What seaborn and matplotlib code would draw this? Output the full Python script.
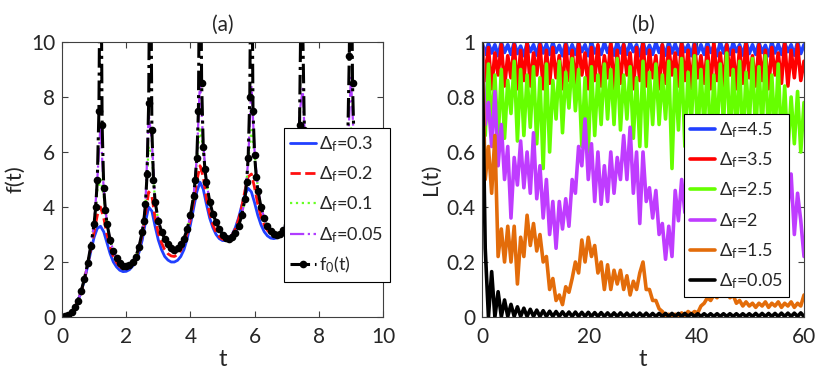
import numpy as np
import pandas as pd
import seaborn as sns
import matplotlib.pyplot as plt

# ---- panel (a): f(t) ----
t_a = np.linspace(0, 10, 101)

f_03 = [0, 0.02, 0.08, 0.18, 0.35, 0.6, 0.93, 1.35, 1.85, 2.4,
        2.9, 3.22, 3.3, 3.1, 2.7, 2.3, 2.0, 1.82, 1.7, 1.65,
        1.66, 1.72, 1.85, 2.05, 2.35, 2.8, 3.45, 4.0, 3.85, 3.3,
        2.8, 2.45, 2.2, 2.07, 2.0, 2.0, 2.06, 2.2, 2.45, 2.85,
        3.35, 3.95, 4.55, 4.9, 4.65, 4.1, 3.6, 3.25, 3.0, 2.85,
        2.78, 2.78, 2.85, 3.0, 3.25, 3.6, 4.05, 4.45, 4.68, 4.55,
        4.15, 3.7, 3.35, 3.1, 2.95, 2.87, 2.85, 2.88, 2.98, 3.15,
        3.4, 3.75, 4.15, 4.5, 4.6, 4.35, 3.9, 3.5, 3.2, 3.0,
        2.9, 2.87, 2.9, 3.0, 3.2, 3.45, 3.8, 4.2, 4.55, 4.7,
        4.55, 4.15, 3.75, 3.45, 3.25, 3.15, 3.15, 3.25, 3.5, 3.85,
        4.3]
f_02 = [0, 0.02, 0.08, 0.18, 0.35, 0.6, 0.94, 1.38, 1.9, 2.5,
        3.1, 3.7, 4.0, 3.6, 3.0, 2.55, 2.2, 1.98, 1.83, 1.76,
        1.75, 1.8, 1.93, 2.15, 2.5, 3.0, 3.75, 4.55, 4.4, 3.6,
        3.05, 2.7, 2.45, 2.3, 2.22, 2.2, 2.27, 2.42, 2.68, 3.05,
        3.55, 4.2, 4.95, 5.5, 5.1, 4.3, 3.75, 3.35, 3.08, 2.92,
        2.83, 2.8, 2.85, 2.98, 3.2, 3.55, 4.0, 4.6, 5.1, 5.2,
        4.7, 4.1, 3.65, 3.35, 3.15, 3.02, 2.96, 2.95, 3.0, 3.12,
        3.35, 3.65, 4.1, 4.7, 5.3, 5.4, 4.8, 4.15, 3.7, 3.4,
        3.22, 3.12, 3.08, 3.1, 3.2, 3.38, 3.65, 4.05, 4.6, 5.3,
        5.6, 5.1, 4.4, 3.95, 3.7, 3.55, 3.5, 3.52, 3.6, 3.75,
        3.96]
f_01 = [0, 0.02, 0.08, 0.18, 0.35, 0.6, 0.95, 1.4, 1.95, 2.6,
        3.4, 4.6, 5.0, 4.4, 3.4, 2.8, 2.4, 2.15, 1.96, 1.86,
        1.83, 1.87, 1.99, 2.19, 2.54, 3.1, 4.1, 6.2, 5.9, 4.2,
        3.5, 3.1, 2.85, 2.65, 2.5, 2.44, 2.49, 2.64, 2.84, 3.2,
        3.7, 4.4, 5.7, 6.9, 6.1, 4.9, 4.2, 3.75, 3.45, 3.2,
        3.0, 2.88, 2.85, 2.9, 3.05, 3.3, 3.7, 4.3, 5.6, 6.8,
        5.9, 4.7, 4.0, 3.6, 3.3, 3.12, 3.02, 2.98, 3.02, 3.15,
        3.35, 3.65, 4.1, 4.9, 6.5, 6.6, 5.4, 4.4, 3.85, 3.55,
        3.35, 3.22, 3.16, 3.17, 3.25, 3.4, 3.65, 4.0, 4.6, 5.9,
        6.9, 6.0, 4.9, 4.25, 3.9, 3.65, 3.5, 3.42, 3.4, 3.45,
        3.55]
f_005 = [0, 0.02, 0.08, 0.18, 0.35, 0.6, 0.95, 1.4, 1.95, 2.6,
         3.4, 5.0, 7.0, 4.6, 3.4, 2.8, 2.4, 2.15, 1.97, 1.87,
         1.84, 1.88, 2.0, 2.2, 2.55, 3.1, 4.1, 7.4, 6.4, 4.2,
         3.5, 3.1, 2.85, 2.65, 2.5, 2.45, 2.5, 2.65, 2.85, 3.2,
         3.7, 4.4, 5.8, 8.6, 6.3, 4.9, 4.2, 3.75, 3.45, 3.2,
         3.0, 2.88, 2.85, 2.9, 3.05, 3.3, 3.7, 4.3, 5.7, 8.4,
         6.0, 4.7, 4.0, 3.6, 3.3, 3.12, 3.02, 2.98, 3.02, 3.15,
         3.35, 3.65, 4.1, 4.9, 7.4, 8.3, 5.5, 4.4, 3.85, 3.55,
         3.35, 3.22, 3.16, 3.17, 3.25, 3.4, 3.65, 4.0, 4.6, 6.0,
         8.7, 6.2, 4.9, 4.25, 3.9, 3.65, 3.5, 3.42, 3.4, 3.45,
         3.55]

t_f0 = [0, 0.1, 0.2, 0.3, 0.4, 0.5, 0.6, 0.7, 0.8, 0.9,
        1.0, 1.05, 1.1, 1.15, 1.2, 1.25, 1.3, 1.35, 1.4, 1.5,
        1.6, 1.7, 1.8, 1.9, 2.0, 2.1, 2.2, 2.3, 2.4, 2.5,
        2.55, 2.6, 2.65, 2.7, 2.75, 2.8, 2.85, 2.9, 3.0, 3.1,
        3.2, 3.3, 3.4, 3.5, 3.6, 3.7, 3.8, 3.9, 4.0, 4.1,
        4.15, 4.2, 4.25, 4.3, 4.35, 4.4, 4.45, 4.5, 4.6, 4.7,
        4.8, 4.9, 5.0, 5.1, 5.2, 5.3, 5.4, 5.5, 5.6, 5.7,
        5.75, 5.8, 5.85, 5.9, 5.95, 6.0, 6.05, 6.1, 6.2, 6.3,
        6.4, 6.5, 6.6, 6.7, 6.8, 6.9, 7.0, 7.1, 7.2, 7.3,
        7.35, 7.4, 7.45, 7.5, 7.55, 7.6, 7.7, 7.8, 7.9, 8.0,
        8.1, 8.2, 8.3, 8.4, 8.5, 8.6, 8.7, 8.8, 8.85, 8.9,
        8.95, 9.0, 9.05, 9.1, 9.15, 9.2, 9.3, 9.4, 9.5, 9.6,
        9.7, 9.8, 9.9, 10.0]
f0 = [0, 0.02, 0.08, 0.18, 0.35, 0.6, 0.95, 1.4, 1.95, 2.6,
      3.4, 4.0, 5.0, 7.5, 16, 7.0, 4.7, 3.9, 3.4, 2.8,
      2.4, 2.15, 1.97, 1.87, 1.84, 1.88, 2.0, 2.2, 2.55, 3.1,
      3.5, 4.1, 5.2, 7.8, 16, 6.8, 5.0, 4.2, 3.5, 3.1,
      2.85, 2.65, 2.5, 2.45, 2.5, 2.65, 2.85, 3.2, 3.7, 4.4,
      5.0, 5.8, 7.5, 16, 8.5, 6.2, 5.4, 4.9, 4.2, 3.75,
      3.45, 3.2, 3.0, 2.88, 2.85, 2.9, 3.05, 3.3, 3.7, 4.3,
      4.9, 5.8, 8.0, 16, 7.5, 5.9, 5.1, 4.6, 4.0, 3.6,
      3.3, 3.12, 3.02, 2.98, 3.02, 3.15, 3.35, 3.65, 4.1, 4.9,
      5.6, 7.0, 12, 10.5, 6.8, 5.6, 4.4, 3.85, 3.55, 3.35,
      3.22, 3.16, 3.17, 3.25, 3.4, 3.65, 4.0, 4.6, 5.3, 6.3,
      9.5, 16, 8.5, 6.2, 5.3, 4.8, 4.25, 3.9, 3.65, 3.5,
      3.42, 3.4, 3.45, 3.55]

# ---- panel (b): L(t) ----
t_b = np.linspace(0, 60, 101)

L_45 = [1.0, 0.955, 0.995, 0.96, 0.99, 0.95, 1.0, 0.962, 0.99, 0.955,
        0.998, 0.958, 0.985, 0.95, 0.995, 0.965, 0.99, 0.952, 1.0, 0.96,
        0.992, 0.955, 0.998, 0.962, 0.988, 0.95, 1.0, 0.958, 0.99, 0.955,
        0.996, 0.965, 0.99, 0.95, 1.0, 0.96, 0.985, 0.955, 0.998, 0.962,
        0.99, 0.952, 1.0, 0.96, 0.992, 0.955, 0.997, 0.965, 0.99, 0.95,
        1.0, 0.958, 0.988, 0.955, 0.998, 0.962, 0.99, 0.952, 1.0, 0.96,
        0.993, 0.955, 0.996, 0.965, 0.99, 0.95, 1.0, 0.958, 0.99, 0.955,
        0.998, 0.962, 0.986, 0.95, 1.0, 0.96, 0.992, 0.955, 0.997, 0.965,
        0.99, 0.952, 1.0, 0.958, 0.99, 0.955, 0.998, 0.962, 0.988, 0.95,
        1.0, 0.96, 0.992, 0.955, 0.996, 0.965, 0.99, 0.952, 1.0, 0.958,
        0.99]
L_35 = [1.0, 0.86, 0.98, 0.83, 0.96, 0.88, 0.99, 0.84, 0.95, 0.87,
        0.99, 0.83, 0.97, 0.86, 1.0, 0.84, 0.96, 0.88, 0.99, 0.83,
        0.97, 0.85, 0.98, 0.87, 0.95, 0.83, 0.99, 0.86, 0.97, 0.84,
        1.0, 0.88, 0.96, 0.83, 0.98, 0.86, 0.99, 0.84, 0.95, 0.87,
        1.0, 0.83, 0.97, 0.85, 0.99, 0.88, 0.96, 0.83, 0.98, 0.86,
        1.0, 0.84, 0.97, 0.87, 0.95, 0.83, 0.99, 0.85, 0.98, 0.88,
        0.96, 0.84, 1.0, 0.86, 0.97, 0.83, 0.99, 0.87, 0.95, 0.85,
        0.98, 0.83, 1.0, 0.86, 0.96, 0.84, 0.99, 0.88, 0.97, 0.83,
        0.98, 0.85, 1.0, 0.87, 0.95, 0.84, 0.99, 0.86, 0.97, 0.83,
        0.98, 0.88, 0.96, 0.85, 1.0, 0.84, 0.97, 0.87, 0.99, 0.86,
        0.93]
L_25 = [1.0, 0.66, 0.92, 0.68, 0.88, 0.64, 0.9, 0.65, 0.86, 0.74,
        0.93, 0.64, 0.9, 0.66, 0.88, 0.69, 0.91, 0.63, 0.87, 0.54,
        0.92, 0.6, 0.86, 0.72, 0.93, 0.67, 0.89, 0.76, 0.94, 0.75,
        0.9, 0.62, 0.87, 0.6, 0.91, 0.66, 0.88, 0.7, 0.92, 0.72,
        0.9, 0.7, 0.94, 0.68, 0.88, 0.72, 0.91, 0.65, 0.87, 0.62,
        0.93, 0.62, 0.89, 0.7, 0.92, 0.7, 0.88, 0.72, 0.93, 0.54,
        0.9, 0.68, 0.94, 0.62, 0.89, 0.7, 0.95, 0.64, 0.9, 0.68,
        0.93, 0.6, 0.88, 0.66, 0.92, 0.7, 0.96, 0.64, 0.9, 0.66,
        0.93, 0.62, 0.89, 0.7, 0.94, 0.66, 0.91, 0.68, 0.95, 0.64,
        0.88, 0.66, 0.92, 0.62, 0.84, 0.6, 0.8, 0.63, 0.82, 0.6,
        0.78]
L_2 = [1.0, 0.7, 0.78, 0.62, 0.82, 0.55, 0.7, 0.5, 0.62, 0.36,
       0.58, 0.48, 0.64, 0.47, 0.6, 0.45, 0.67, 0.43, 0.55, 0.36,
       0.5, 0.3, 0.42, 0.25, 0.42, 0.32, 0.43, 0.33, 0.5, 0.45,
       0.62, 0.55, 0.72, 0.5, 0.63, 0.42, 0.6, 0.41, 0.55, 0.42,
       0.6, 0.45, 0.58, 0.5, 0.66, 0.5, 0.69, 0.45, 0.6, 0.34,
       0.6, 0.42, 0.47, 0.36, 0.46, 0.3, 0.34, 0.21, 0.33, 0.22,
       0.46, 0.35, 0.5, 0.38, 0.55, 0.4, 0.58, 0.42, 0.6, 0.45,
       0.55, 0.38, 0.5, 0.35, 0.55, 0.4, 0.6, 0.42, 0.52, 0.35,
       0.45, 0.3, 0.42, 0.32, 0.48, 0.36, 0.52, 0.4, 0.55, 0.42,
       0.58, 0.4, 0.56, 0.38, 0.55, 0.4, 0.52, 0.3, 0.45, 0.35,
       0.22]
L_15 = [1.0, 0.5, 0.62, 0.45, 0.66, 0.22, 0.32, 0.2, 0.33, 0.2,
        0.33, 0.12, 0.29, 0.22, 0.37, 0.26, 0.34, 0.24, 0.3, 0.2,
        0.22, 0.1, 0.14, 0.06, 0.08, 0.045, 0.11, 0.09, 0.14, 0.2,
        0.16, 0.28, 0.2, 0.29, 0.22, 0.26, 0.16, 0.2, 0.1, 0.19,
        0.1, 0.17, 0.12, 0.17, 0.1, 0.15, 0.08, 0.13, 0.1, 0.16,
        0.2, 0.1, 0.1, 0.06, 0.06, 0.03, 0.02, 0.005, 0.01, 0.0,
        0.01, 0.005, 0.015, 0.005, 0.02, 0.01, 0.02, 0.015, 0.04, 0.05,
        0.07, 0.06, 0.08, 0.07, 0.1, 0.08, 0.1, 0.07, 0.08, 0.05,
        0.06, 0.04, 0.055, 0.04, 0.05, 0.035, 0.05, 0.04, 0.055, 0.035,
        0.05, 0.04, 0.055, 0.035, 0.05, 0.04, 0.055, 0.035, 0.05, 0.04,
        0.08]
L_005 = [1.0, 0.25, 0.0, 0.165, 0.0, 0.092, 0.001, 0.062, 0.002, 0.046,
         0.002, 0.037, 0.002, 0.032, 0.002, 0.028, 0.002, 0.025, 0.002, 0.023,
         0.002, 0.021, 0.002, 0.02, 0.002, 0.019, 0.002, 0.018, 0.002, 0.018,
         0.002, 0.017, 0.002, 0.017, 0.002, 0.016, 0.002, 0.016, 0.002, 0.015,
         0.002, 0.015, 0.002, 0.015, 0.002, 0.014, 0.002, 0.014, 0.002, 0.014,
         0.002, 0.014, 0.002, 0.013, 0.002, 0.013, 0.002, 0.013, 0.002, 0.013,
         0.002, 0.013, 0.002, 0.013, 0.002, 0.012, 0.002, 0.012, 0.002, 0.012,
         0.002, 0.012, 0.002, 0.012, 0.002, 0.012, 0.002, 0.012, 0.002, 0.012,
         0.002, 0.012, 0.002, 0.012, 0.002, 0.013, 0.002, 0.013, 0.002, 0.013,
         0.002, 0.013, 0.002, 0.014, 0.002, 0.014, 0.002, 0.014, 0.002, 0.015,
         0.002]

sns.set_style('ticks')
plt.rcParams['font.family'] = ['Lato', 'DejaVu Sans']
plt.rcParams['mathtext.fontset'] = 'custom'
plt.rcParams['mathtext.rm'] = 'Lato'
plt.rcParams['mathtext.it'] = 'Lato'

def dlab(v):
    return 'Δ$_{\\mathrm{f}}$=' + v

fig = plt.figure(figsize=(8.3, 3.8), dpi=100)
ax1 = fig.add_axes([62 / 830, 63 / 380, 321 / 830, 275 / 380])
ax2 = fig.add_axes([482 / 830, 63 / 380, 322 / 830, 275 / 380])

# panel (a)
sns.lineplot(x=t_a, y=f_03, ax=ax1, color='#2140ff', lw=2, label=dlab('0.3'))
sns.lineplot(x=t_a, y=f_02, ax=ax1, color='#ff1010', lw=2, linestyle='--', label=dlab('0.2'))
sns.lineplot(x=t_a, y=f_01, ax=ax1, color='#66ff22', lw=1.6, linestyle=':', label=dlab('0.1'))
sns.lineplot(x=t_a, y=f_005, ax=ax1, color='#b03cff', lw=1.6, linestyle='-.', label=dlab('0.05'))
sns.lineplot(x=t_f0, y=f0, ax=ax1, color='k', lw=2.2, linestyle='-.', marker='o',
             markersize=5.5, markeredgecolor='k', markeredgewidth=0, label='f$_0$(t)')
ax1.set_xlim(0, 10)
ax1.set_ylim(0, 10)
ax1.set_xticks([0, 2, 4, 6, 8, 10])
ax1.set_yticks([0, 2, 4, 6, 8, 10])
ax1.set_xlabel('t', fontsize=17, labelpad=2)
ax1.set_ylabel('f(t)', fontsize=16, labelpad=4)
ax1.set_title('(a)', fontsize=15, pad=8)
leg_kw = dict(loc='upper left', fontsize=13, frameon=True, fancybox=False,
              framealpha=1, edgecolor='k', handlelength=1.4, handletextpad=0.2,
              labelspacing=0.58, borderpad=0.35, borderaxespad=0)
ax1.legend(bbox_to_anchor=(0.692, 0.687), **leg_kw)

# panel (b)
b_series = [(L_45, '#2140ff', '4.5'), (L_35, '#ff0000', '3.5'), (L_25, '#66ff00', '2.5'),
            (L_2, '#bf3cff', '2'), (L_15, '#e36c0a', '1.5'), (L_005, 'k', '0.05')]
for vals, col, lab in b_series:
    sns.lineplot(x=t_b, y=vals, ax=ax2, color=col, lw=2.6, label=dlab(lab))
ax2.set_xlim(0, 60)
ax2.set_ylim(0, 1)
ax2.set_xticks([0, 20, 40, 60])
ax2.set_yticks([0, 0.2, 0.4, 0.6, 0.8, 1])
ax2.set_yticklabels(['0', '0.2', '0.4', '0.6', '0.8', '1'])
ax2.set_xlabel('t', fontsize=17, labelpad=2)
ax2.set_ylabel('L(t)', fontsize=16, labelpad=4)
ax2.set_title('(b)', fontsize=15, pad=8)
ax2.legend(bbox_to_anchor=(0.627, 0.738), **leg_kw)

for ax in (ax1, ax2):
    ax.tick_params(direction='in', top=True, right=True, length=4, width=0.8,
                   color='#404040', labelsize=15, pad=5)
    ax.tick_params(axis='x', pad=7)
    for sp in ax.spines.values():
        sp.set_color('#404040')
        sp.set_linewidth(0.8)
    ax.get_legend().get_frame().set_linewidth(0.8)

fig.savefig('out.png', dpi=100)
